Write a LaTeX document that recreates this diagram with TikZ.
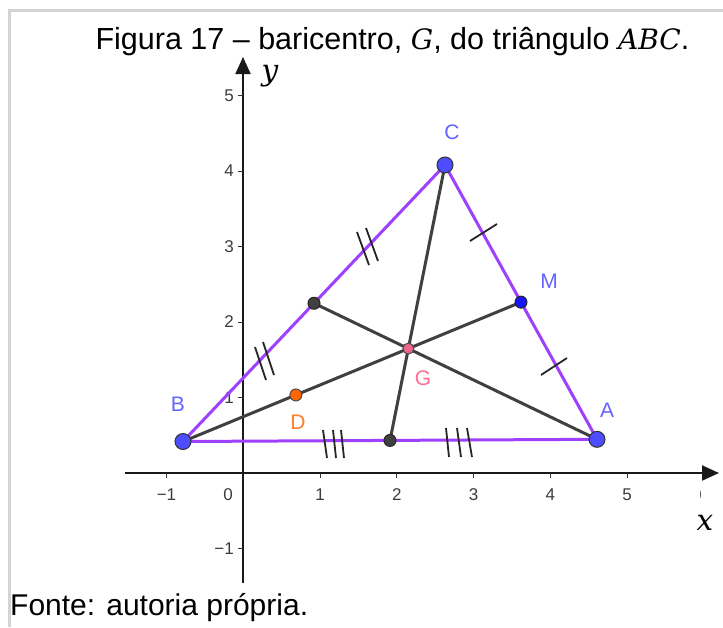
\documentclass[tikz,border=0pt]{standalone}
\usepackage{fontspec}
\setmainfont{Liberation Sans}
\newfontfamily\serifit{DejaVu Serif}[Scale=0.92]
\usetikzlibrary{arrows.meta,calc}
\definecolor{sidec}{RGB}{160,64,255}
\definecolor{medc}{RGB}{64,64,64}
\definecolor{ptblue}{RGB}{77,77,255}
\definecolor{mblue}{RGB}{20,20,255}
\definecolor{lblblue}{RGB}{100,100,255}
\definecolor{gpink}{RGB}{240,100,140}
\definecolor{gtext}{RGB}{255,110,150}
\definecolor{dorange}{RGB}{255,102,0}
\definecolor{dtext}{RGB}{255,125,40}
\definecolor{framegray}{RGB}{212,212,212}
\definecolor{ticktext}{RGB}{60,60,60}
\tikzset{
  side/.style={draw=sidec, line width=3pt},
  median/.style={draw=medc, line width=3pt},
  hashmark/.style={draw=black!85, line width=1.8pt},
  axisline/.style={line width=2pt, draw=black!90, -{Triangle[length=17pt,width=15pt]}},
  tickline/.style={line width=1pt, draw=black!80},
  ticklbl/.style={text=ticktext, font=\fontsize{17}{20}\selectfont, inner sep=0pt},
  bigdot/.style={circle, fill=ptblue, draw=black!80, line width=1pt, minimum size=16pt, inner sep=0pt},
  middot/.style={circle, draw=black!85, line width=1pt, minimum size=12pt, inner sep=0pt},
  ptlbl/.style={font=\fontsize{21}{25}\selectfont, inner sep=0pt}
}
\begin{document}
\begin{tikzpicture}[x=1pt,y=-1pt]
\useasboundingbox (0,0) rectangle (723,627);
\fill[white] (0,0) rectangle (723,627);
% frame
\draw[framegray, line width=3pt] (723,10) -- (9.5,10) -- (9.5,627);
% title and source
\node[inner sep=0pt] (title) at (392.5,42) {\fontsize{30.5}{36}\selectfont Figura 17 – baricentro, {\serifit\itshape G}, do triângulo {\serifit\itshape ABC}.};
\node[anchor=west, inner sep=0pt] (fonte) at (10,608) {\fontsize{30}{36}\selectfont Fonte: autoria própria.};
% axes
\coordinate (xs) at (125,473);
\coordinate (xe) at (719,473);
\coordinate (ys) at (243,583);
\coordinate (ye) at (243,57);
\draw[axisline] (xs) -- (xe);
\draw[axisline] (ys) -- (ye);
\node[inner sep=0pt] (xl) at (705,523) {\fontsize{32}{36}\selectfont\serifit\itshape x};
\node[inner sep=0pt] (yl) at (270,76) {\fontsize{32}{36}\selectfont\serifit\itshape y};
% x ticks
\foreach \v/\t in {-1/−1,1/1,2/2,3/3,4/4,5/5}{
  \draw[tickline] ({243.25+76.75*\v},473) -- ({243.25+76.75*\v},478);
  \node[ticklbl] at ({243.25+76.75*\v},495) {\t};
}
\node[ticklbl] (zero) at (228,495) {0};
\begin{scope}
  \clip (690,485) rectangle (700.5,505);
  \node[ticklbl] (six) at (704,495) {6};
\end{scope}
% y ticks
\foreach \v/\t in {-1/−1,1/1,2/2,3/3,4/4,5/5}{
  \draw[tickline] (238,{473-75.5*\v}) -- (243,{473-75.5*\v});
  \node[ticklbl, anchor=east] at (234,{473-75.5*\v}) {\t};
}
% points
\coordinate (A) at (597,439.3);
\coordinate (B) at (183,441.5);
\coordinate (C) at (445,165);
\coordinate (N) at ($(B)!0.5!(C)$);
\coordinate (M) at ($(A)!0.5!(C)$);
\coordinate (P) at ($(A)!0.5!(B)$);
\coordinate (G) at ($(B)!0.6667!(M)$);
\coordinate (D) at ($(B)!0.334!(M)$);
% triangle sides
\draw[side] (A) -- (B) -- (C) -- cycle;
% medians
\draw[median] (C) -- (P);
\draw[median] (A) -- (N);
\draw[median] (B) -- (M);
% hash marks AB
\draw[hashmark] (323,430) -- (327,458);
\draw[hashmark] (333,430) -- (336,458);
\draw[hashmark] (341,430) -- (344,458);
\draw[hashmark] (446,428) -- (449,457);
\draw[hashmark] (457,428) -- (461,457);
\draw[hashmark] (467,428) -- (472,457);
% hash marks BC
\draw[hashmark] (357,232) -- (369,265);
\draw[hashmark] (366,228) -- (378,261);
\draw[hashmark] (255,347) -- (266,380);
\draw[hashmark] (263,342) -- (274,375);
% hash marks AC
\draw[hashmark] (470,241) -- (497,224);
\draw[hashmark] (541,375) -- (567,358);
% dots
\node[bigdot] (Ad) at (A) {};
\node[bigdot] (Bd) at (B) {};
\node[bigdot] (Cd) at (C) {};
\node[middot, fill=mblue] (Md) at (M) {};
\node[middot, fill=medc] (Nd) at (N) {};
\node[middot, fill=medc] (Pd) at (P) {};
\node[middot, fill=dorange, draw=black!70] (Dd) at (D) {};
\node[middot, fill=gpink, draw=black!70, minimum size=11pt] (Gd) at (G) {};
% labels
\node[ptlbl, text=lblblue] (Al) at (607,410) {A};
\node[ptlbl, text=lblblue] (Bl) at (178,404) {B};
\node[ptlbl, text=lblblue] (Cl) at (452,132) {C};
\node[ptlbl, text=lblblue] (Ml) at (549,281) {M};
\node[ptlbl, text=dtext] (Dl) at (298,422) {D};
\node[ptlbl, text=gtext] (Gl) at (423,378) {G};
\end{tikzpicture}
\end{document}
